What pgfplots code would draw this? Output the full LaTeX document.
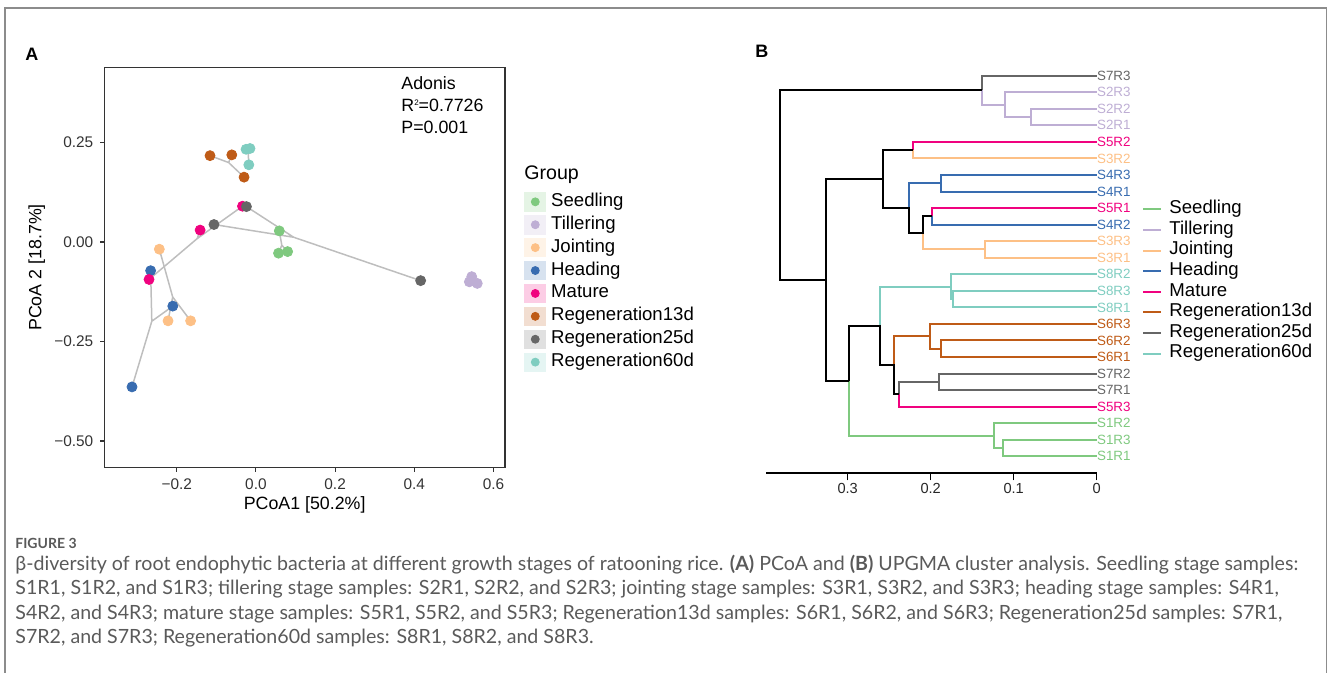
\documentclass[border=0pt]{standalone}
\usepackage{fontspec}
\setmainfont{Liberation Sans}
\newfontfamily\capfont{Lato}
\usepackage{pgfplots}
\pgfplotsset{compat=1.18}

\definecolor{cSeed}{HTML}{7FC97F}
\definecolor{cTill}{HTML}{BEAED4}
\definecolor{cJoint}{HTML}{FDC086}
\definecolor{cHead}{HTML}{386CB0}
\definecolor{cMat}{HTML}{F0027F}
\definecolor{cR13}{HTML}{BF5B17}
\definecolor{cR25}{HTML}{666666}
\definecolor{cR60}{HTML}{7FCDC0}
\definecolor{spider}{HTML}{BEBEBE}
\definecolor{framec}{HTML}{8C8C8C}
\definecolor{captxt}{HTML}{5A5A5A}

\newcommand\fs[1]{\fontsize{#1}{#1}\selectfont}

\pgfplotsset{
  grp/.style={only marks, mark=*, mark size=2.5pt, color=#1,
    mark options={draw=none, fill=#1},
    legend image code/.code={
      \fill[#1!20] (0pt,-4.6pt) rectangle (10.5pt,4.6pt);
      \fill[#1] (5.25pt,0pt) circle (2pt);}},
  spid/.style={spider, line width=0.75pt, forget plot},
  dend/.style={#1, line width=1pt, unbounded coords=jump, forget plot, line join=miter},
}

\begin{document}
\begin{tikzpicture}[x=0.5pt, y=-0.5pt]
\useasboundingbox (0,0) rectangle (1328,673);

% ---------- A: PCoA ----------
\begin{axis}[
  at={(52.15pt,-233.85pt)}, anchor=south west,
  scale only axis, width=200.35pt, height=200.2pt,
  xmin=-0.383, xmax=0.629, ymin=-0.567, ymax=0.439,
  xtick={-0.2,0,0.2,0.4,0.6}, xticklabels={−0.2,0.0,0.2,0.4,0.6},
  ytick={-0.5,-0.25,0,0.25}, yticklabels={−0.50,−0.25,0.00,0.25},
  /pgf/number format/assume math mode=true,
  tick align=outside, tick pos=left, major tick length=2pt,
  axis line style={draw=black!80, line width=0.65pt},
  tick style={black!80, line width=0.55pt},
  ticklabel style={font=\fs{7.7}, text=black!80},
  xlabel={PCoA1 [50.2\%]}, ylabel={PCoA 2 [18.7\%]},
  label style={font=\fs{8.9}},
  xlabel style={at={(axis description cs:0.5,-0.0932)}, anchor=center},
  ylabel style={at={(axis description cs:-0.1687,0.5)}, anchor=center},
  legend cell align=left,
  legend style={at={(axis description cs:1.0474,0.6936)}, anchor=north west,
    draw=none, fill=none, inner sep=0pt, row sep=0pt, column sep=2.5pt,
    font=\fs{9.3},
    nodes={inner sep=0pt, text height=8pt, text depth=3.45pt}},
]
% spider lines (centroid to each sample)
\addplot[spid] coordinates {(0.0653,-0.008) (0.059,0.028) (0.0653,-0.008) (0.057,-0.028) (0.0653,-0.008) (0.080,-0.024)};
\addplot[spid] coordinates {(0.5477,-0.097) (0.545,-0.087) (0.5477,-0.097) (0.539,-0.100) (0.5477,-0.097) (0.559,-0.104)};
\addplot[spid] coordinates {(-0.2103,-0.138) (-0.244,-0.018) (-0.2103,-0.138) (-0.222,-0.198) (-0.2103,-0.138) (-0.165,-0.198)};
\addplot[spid] coordinates {(-0.263,-0.199) (-0.266,-0.072) (-0.263,-0.199) (-0.210,-0.161) (-0.263,-0.199) (-0.313,-0.364)};
\addplot[spid] coordinates {(-0.1483,0.0087) (-0.034,0.090) (-0.1483,0.0087) (-0.141,0.030) (-0.1483,0.0087) (-0.270,-0.094)};
\addplot[spid] coordinates {(-0.069,0.1997) (-0.116,0.217) (-0.069,0.1997) (-0.061,0.219) (-0.069,0.1997) (-0.030,0.163)};
\addplot[spid] coordinates {(0.0953,0.012) (-0.024,0.089) (0.0953,0.012) (-0.106,0.044) (0.0953,0.012) (0.416,-0.097)};
\addplot[spid] coordinates {(-0.0193,0.2207) (-0.025,0.233) (-0.0193,0.2207) (-0.015,0.235) (-0.0193,0.2207) (-0.018,0.194)};
% samples
\addplot[grp=cSeed] coordinates {(0.059,0.028) (0.057,-0.028) (0.080,-0.024)};
\addlegendentry{Seedling}
\addplot[grp=cTill] coordinates {(0.545,-0.087) (0.539,-0.100) (0.559,-0.104)};
\addlegendentry{Tillering}
\addplot[grp=cJoint] coordinates {(-0.244,-0.018) (-0.222,-0.198) (-0.165,-0.198)};
\addlegendentry{Jointing}
\addplot[grp=cHead] coordinates {(-0.266,-0.072) (-0.210,-0.161) (-0.313,-0.364)};
\addlegendentry{Heading}
\addplot[grp=cMat] coordinates {(-0.034,0.090) (-0.141,0.030) (-0.270,-0.094)};
\addlegendentry{Mature}
\addplot[grp=cR13] coordinates {(-0.116,0.217) (-0.061,0.219) (-0.030,0.163)};
\addlegendentry{Regeneration13d}
\addplot[grp=cR25] coordinates {(-0.024,0.089) (-0.106,0.044) (0.416,-0.097)};
\addlegendentry{Regeneration25d}
\addplot[grp=cR60] coordinates {(-0.025,0.233) (-0.015,0.235) (-0.018,0.194)};
\addlegendentry{Regeneration60d}
\end{axis}

% ---------- B: UPGMA dendrogram ----------
\begin{axis}[
  at={(382.85pt,-236.65pt)}, anchor=south west,
  scale only axis, width=165.5pt, height=202.95pt,
  xmin=0, xmax=0.3988, x dir=reverse, ymin=-0.024, ymax=24.5,
  axis x line=bottom, axis y line=none,
  axis line style={-, line width=1pt, black},
  xtick={0,0.1,0.2,0.3}, xticklabels={0,0.1,0.2,0.3},
  /pgf/number format/assume math mode=true,
  tick align=outside, major tick length=3.5pt,
  tick style={black, line width=0.7pt},
  xticklabel style={font=\fs{7.3}, text=black!85, inner sep=1.4pt},
  clip=false,
  legend cell align=left,
  legend image code/.code={\draw[#1, line width=1pt] (0pt,0pt) -- (9pt,0pt);},
  legend style={at={(axis description cs:1.136,0.6765)}, anchor=north west,
    draw=none, fill=none, inner sep=0pt, row sep=0pt, column sep=3.65pt,
    font=\fs{9.3},
    nodes={inner sep=0pt, text height=7.3pt, text depth=3pt}},
]
\addplot[dend=cR25] coordinates {(0,24) (0.1386,24) (0.1386,23.125) (nan,nan)
  (0,6) (0.190,6) (0.190,5) (0,5) (nan,nan)
  (0.190,5.5) (0.2378,5.5) (0.2378,4.75)};
\addplot[dend=cTill] coordinates {(0,23) (0.1105,23) (0.1105,21.5) (0.079,21.5) (nan,nan)
  (0,22) (0.079,22) (0.079,21) (0,21) (nan,nan)
  (0.1105,22.25) (0.1386,22.25) (0.1386,23.125)};
\addplot[dend=cMat] coordinates {(0,20) (0.2217,20) (0.2217,19.5) (nan,nan)
  (0,16) (0.199,16) (0.199,15.5) (nan,nan)
  (0,4) (0.2378,4) (0.2378,4.75)};
\addplot[dend=cJoint] coordinates {(0,19) (0.2217,19) (0.2217,19.5) (nan,nan)
  (0,14) (0.134,14) (0.134,13) (0,13) (nan,nan)
  (0.134,13.5) (0.209,13.5) (0.209,14.5)};
\addplot[dend=cHead] coordinates {(0,18) (0.188,18) (0.188,17) (0,17) (nan,nan)
  (0.188,17.5) (0.2257,17.5) (0.2257,16) (nan,nan)
  (0,15) (0.199,15) (0.199,15.5)};
\addplot[dend=cR60] coordinates {(0,12) (0.176,12) (0.176,10.5) (0.1727,10.5) (nan,nan)
  (0,11) (0.1727,11) (0.1727,10) (0,10) (nan,nan)
  (0.176,11.25) (0.261,11.25) (0.261,8.875)};
\addplot[dend=cR13] coordinates {(0,9) (0.2008,9) (0.2008,7.5) (0.1876,7.5) (nan,nan)
  (0,8) (0.1876,8) (0.1876,7) (0,7) (nan,nan)
  (0.2008,8.25) (0.2446,8.25) (0.2446,6.5)};
\addplot[dend=cSeed] coordinates {(0,3) (0.124,3) (0.124,1.5) (0.1125,1.5) (nan,nan)
  (0,2) (0.1125,2) (0.1125,1) (0,1) (nan,nan)
  (0.124,2.25) (0.298,2.25) (0.298,5.5625)};
\addplot[dend=black] coordinates {(0.1386,23.125) (0.382,23.125) (0.382,11.656) (0.326,11.656) (nan,nan)
  (0.258,17.75) (0.326,17.75) (0.326,5.5625) (0.298,5.5625) (nan,nan)
  (0.2217,19.5) (0.258,19.5) (0.258,16) (0.2257,16) (0.2257,14.5) (0.209,14.5) (0.209,15.5) (0.199,15.5) (nan,nan)
  (0.298,5.5625) (0.298,8.875) (0.261,8.875) (0.261,6.5) (0.2446,6.5) (0.2446,4.75) (0.2378,4.75)};
% leaf labels
\begin{scope}[every node/.style={anchor=west, inner sep=0pt, font=\fs{6.7}}]
\node[text=cR25]  at (axis cs:0,24) {S7R3};
\node[text=cTill] at (axis cs:0,23) {S2R3};
\node[text=cTill] at (axis cs:0,22) {S2R2};
\node[text=cTill] at (axis cs:0,21) {S2R1};
\node[text=cMat]  at (axis cs:0,20) {S5R2};
\node[text=cJoint] at (axis cs:0,19) {S3R2};
\node[text=cHead] at (axis cs:0,18) {S4R3};
\node[text=cHead] at (axis cs:0,17) {S4R1};
\node[text=cMat]  at (axis cs:0,16) {S5R1};
\node[text=cHead] at (axis cs:0,15) {S4R2};
\node[text=cJoint] at (axis cs:0,14) {S3R3};
\node[text=cJoint] at (axis cs:0,13) {S3R1};
\node[text=cR60]  at (axis cs:0,12) {S8R2};
\node[text=cR60]  at (axis cs:0,11) {S8R3};
\node[text=cR60]  at (axis cs:0,10) {S8R1};
\node[text=cR13]  at (axis cs:0,9) {S6R3};
\node[text=cR13]  at (axis cs:0,8) {S6R2};
\node[text=cR13]  at (axis cs:0,7) {S6R1};
\node[text=cR25]  at (axis cs:0,6) {S7R2};
\node[text=cR25]  at (axis cs:0,5) {S7R1};
\node[text=cMat]  at (axis cs:0,4) {S5R3};
\node[text=cSeed] at (axis cs:0,3) {S1R2};
\node[text=cSeed] at (axis cs:0,2) {S1R3};
\node[text=cSeed] at (axis cs:0,1) {S1R1};
\end{scope}
\addlegendimage{cSeed}\addlegendentry{Seedling}
\addlegendimage{cTill}\addlegendentry{Tillering}
\addlegendimage{cJoint}\addlegendentry{Jointing}
\addlegendimage{cHead}\addlegendentry{Heading}
\addlegendimage{cMat}\addlegendentry{Mature}
\addlegendimage{cR13}\addlegendentry{Regeneration13d}
\addlegendimage{cR25}\addlegendentry{Regeneration25d}
\addlegendimage{cR60}\addlegendentry{Regeneration60d}
\end{axis}

% ---------- texts ----------
\node[anchor=base west, inner sep=0pt, font=\bfseries\fs{9}] at (25,60.5) {A};
\node[anchor=base west, inner sep=0pt, font=\bfseries\fs{9}] at (755,57.5) {B};
\node[anchor=base west, inner sep=0pt, font=\fs{8.9}] at (401,90) {Adonis};
\node[anchor=base west, inner sep=0pt, font=\fs{8.9}] at (401,112) {R{\fs{4}\raisebox{3.2pt}{2}}=0.7726};
\node[anchor=base west, inner sep=0pt, font=\fs{8.9}] at (401,134) {P=0.001};
\node[anchor=base west, inner sep=0pt, font=\fs{9.8}] at (524,180) {Group};

\begin{scope}[every node/.style={anchor=base west, inner sep=0pt, text=captxt, font=\capfont\fs{9.8}}]
\node[font=\capfont\bfseries\fs{7}] at (15,548) {FIGURE 3};
\node at (15,570) {β-diversity of root endophytic bacteria at different growth stages of ratooning rice. \textbf{(A)} PCoA and \textbf{(B)} UPGMA cluster analysis. Seedling stage samples:};
\node at (15,594.5) {S1R1, S1R2, and S1R3; tillering stage samples: S2R1, S2R2, and S2R3; jointing stage samples: S3R1, S3R2, and S3R3; heading stage samples: S4R1,};
\node at (15,619) {S4R2, and S4R3; mature stage samples: S5R1, S5R2, and S5R3; Regeneration13d samples: S6R1, S6R2, and S6R3; Regeneration25d samples: S7R1,};
\node at (15,643.5) {S7R2, and S7R3; Regeneration60d samples: S8R1, S8R2, and S8R3.};
\end{scope}

\draw[framec, line width=0.8pt] (5,673) -- (5,8) -- (1326.5,8) -- (1326.5,673);
\end{tikzpicture}
\end{document}
